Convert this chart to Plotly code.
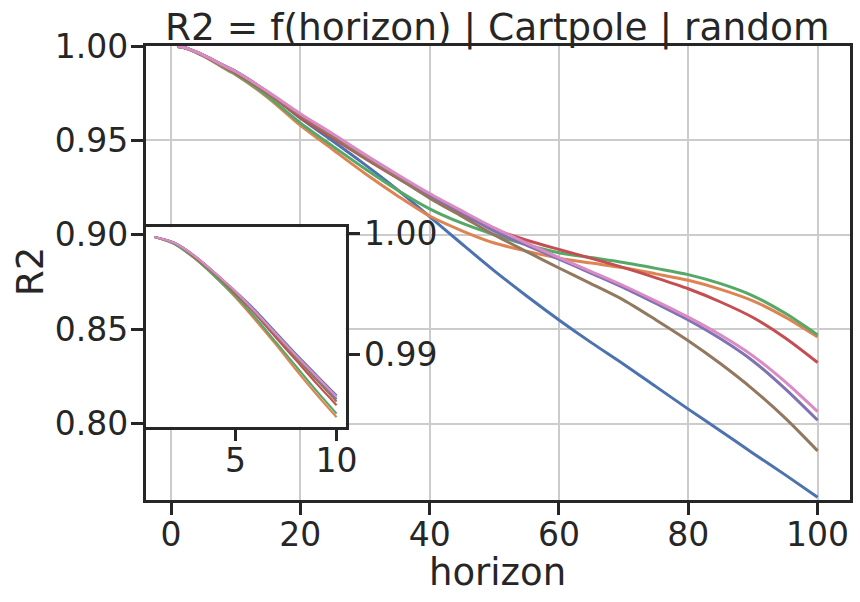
import plotly.graph_objects as go

horizon = [1, 2, 3, 4, 5, 6, 7, 8, 9, 10, 15, 20, 25, 30, 35, 40, 45, 50,
           55, 60, 65, 70, 75, 80, 85, 90, 95, 100]

r2_blue = [0.9997, 0.9992, 0.9981, 0.9967, 0.9952, 0.9936, 0.9918, 0.9900, 0.9883, 0.9866,
           0.9754, 0.9618, 0.9497, 0.9372, 0.9240, 0.9097, 0.8952, 0.8810, 0.8677, 0.8550,
           0.8430, 0.8316, 0.8197, 0.8078, 0.7962, 0.7845, 0.7730, 0.7612]
r2_orange = [0.9997, 0.9991, 0.9979, 0.9964, 0.9947, 0.9928, 0.9908, 0.9887, 0.9867, 0.9848,
             0.9726, 0.9580, 0.9452, 0.9325, 0.9208, 0.9100, 0.9022, 0.8957, 0.8914, 0.8877,
             0.8851, 0.8826, 0.8794, 0.8760, 0.8712, 0.8651, 0.8565, 0.8460]
r2_green = [0.9997, 0.9991, 0.9979, 0.9964, 0.9948, 0.9930, 0.9910, 0.9890, 0.9870, 0.9851,
            0.9733, 0.9593, 0.9470, 0.9350, 0.9238, 0.9138, 0.9062, 0.9001, 0.8948, 0.8906,
            0.8880, 0.8854, 0.8823, 0.8790, 0.8742, 0.8678, 0.8585, 0.8471]
r2_red = [0.9997, 0.9992, 0.9980, 0.9966, 0.9950, 0.9933, 0.9914, 0.9895, 0.9876, 0.9858,
          0.9748, 0.9622, 0.9513, 0.9405, 0.9302, 0.9203, 0.9108, 0.9030, 0.8972, 0.8923,
          0.8876, 0.8827, 0.8773, 0.8715, 0.8645, 0.8563, 0.8455, 0.8325]
r2_purple = [0.9997, 0.9992, 0.9981, 0.9967, 0.9951, 0.9934, 0.9916, 0.9898, 0.9880, 0.9863,
             0.9755, 0.9636, 0.9528, 0.9418, 0.9313, 0.9210, 0.9117, 0.9020, 0.8945, 0.8872,
             0.8797, 0.8721, 0.8637, 0.8550, 0.8450, 0.8333, 0.8185, 0.8019]
r2_brown = [0.9997, 0.9992, 0.9981, 0.9966, 0.9951, 0.9934, 0.9916, 0.9897, 0.9879, 0.9861,
            0.9753, 0.9633, 0.9522, 0.9410, 0.9303, 0.9195, 0.9098, 0.9000, 0.8912, 0.8825,
            0.8741, 0.8655, 0.8550, 0.8440, 0.8318, 0.8183, 0.8030, 0.7857]
r2_pink = [0.9997, 0.9992, 0.9981, 0.9967, 0.9952, 0.9935, 0.9917, 0.9899, 0.9882, 0.9865,
           0.9758, 0.9642, 0.9535, 0.9425, 0.9320, 0.9219, 0.9127, 0.9037, 0.8957, 0.8880,
           0.8806, 0.8731, 0.8650, 0.8565, 0.8470, 0.8360, 0.8222, 0.8065]

series = [r2_blue, r2_orange, r2_green, r2_red, r2_purple, r2_brown, r2_pink]
colors = ["#4C72B0", "#DD8452", "#55A868", "#C44E52", "#8172B3", "#937860", "#DA8BC3"]

main_xticks = [0, 20, 40, 60, 80, 100]
main_yticks = [0.80, 0.85, 0.90, 0.95, 1.00]
inset_xticks = [5, 10]
inset_yticks = [0.99, 1.00]
n_inset = 10

FONT = "DejaVu Sans"
TXT = "#262626"
W, H = 860, 602

fig = go.Figure()
for ys, c in zip(series, colors):
    fig.add_trace(go.Scatter(x=horizon, y=ys, mode="lines",
                             line=dict(color=c, width=3, shape="spline", smoothing=0.8),
                             xaxis="x", yaxis="y", showlegend=False, hoverinfo="skip"))
for ys, c in zip(series, colors):
    fig.add_trace(go.Scatter(x=horizon[:n_inset], y=ys[:n_inset], mode="lines",
                             line=dict(color=c, width=2.2, shape="spline", smoothing=0.8),
                             xaxis="x2", yaxis="y2", showlegend=False, hoverinfo="skip"))

common = dict(ticks="outside", ticklen=12, tickwidth=2.5, tickcolor=TXT,
              showline=True, linecolor=TXT, linewidth=2.5, mirror=True,
              zeroline=False, automargin=False,
              tickfont=dict(family=FONT, size=33, color=TXT))

fig.update_layout(
    width=W, height=H,
    margin=dict(l=0, r=0, t=0, b=0, pad=0),
    paper_bgcolor="white", plot_bgcolor="white",
    font=dict(family=FONT, color=TXT),
    xaxis=dict(domain=[145.5 / W, 849.6 / W], range=[-3.95, 104.95],
               tickvals=main_xticks, showgrid=True, gridcolor="#cccccc", gridwidth=2,
               anchor="y", ticklabelstandoff=-8, **common),
    yaxis=dict(domain=[(H - 500) / H, (H - 46) / H], range=[0.7597, 1.0],
               tickvals=main_yticks, tickformat=".2f", showgrid=True,
               gridcolor="#cccccc", gridwidth=2, anchor="x",
               ticklabelstandoff=-4, **common),
    xaxis2=dict(domain=[145.5 / W, 345.7 / W], range=[0.55, 10.45],
                tickvals=inset_xticks, showgrid=False, anchor="y2",
                ticklabelstandoff=-9, **common),
    yaxis2=dict(domain=[(H - 426.7) / H, (H - 227.3) / H], range=[0.98402, 1.0005],
                tickvals=inset_yticks, tickformat=".2f", showgrid=False,
                side="right", anchor="x2", ticklabelstandoff=-3, **common),
    annotations=[
        dict(text="R2 = f(horizon) | Cartpole | random", x=497.5 / W, y=(H - 27) / H,
             xref="paper", yref="paper", showarrow=False, xanchor="center",
             yanchor="middle", font=dict(family=FONT, size=37.5, color=TXT)),
        dict(text="horizon", x=497.5 / W, y=(H - 572) / H, xref="paper", yref="paper",
             showarrow=False, xanchor="center", yanchor="middle",
             font=dict(family=FONT, size=37, color=TXT)),
        dict(text="R2", x=30 / W, y=(H - 272) / H, xref="paper", yref="paper",
             showarrow=False, xanchor="center", yanchor="middle", textangle=-90,
             font=dict(family=FONT, size=37, color=TXT)),
    ],
)

fig.write_html("out.html", config={"displayModeBar": False},
               post_script="document.body.style.margin='0';")
